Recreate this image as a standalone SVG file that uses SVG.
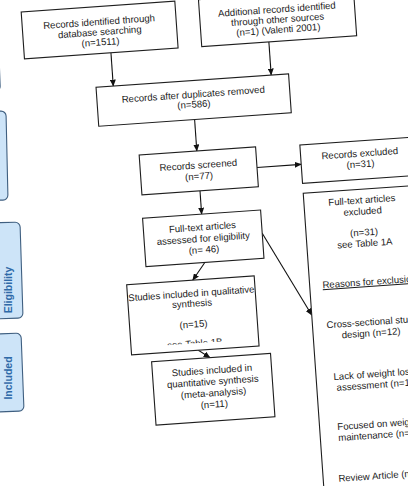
<svg xmlns="http://www.w3.org/2000/svg" width="408" height="486" viewBox="0 0 408 486">
<style>
.box{fill:#fff;stroke:#1e1e1e;stroke-width:1.1}
.t{font-family:"Liberation Sans",Arial,sans-serif;font-size:9.6px;fill:#1a1a1a;text-anchor:middle}
.lab{fill:#cde4f8;stroke:#3f5f80;stroke-width:1.1}
.lt{font-family:"Liberation Sans",Arial,sans-serif;font-size:10.5px;font-weight:bold;fill:#2f6aa8;text-anchor:middle}
.con{stroke:#111;stroke-width:1.1;fill:none}
</style>
<defs>
<marker id="ah" markerWidth="7" markerHeight="6" refX="6.5" refY="3" orient="auto" markerUnits="userSpaceOnUse">
<path d="M0,0 L7,3 L0,6 Z" fill="#111"/>
</marker>
<clipPath id="c8"><rect x="106.5" y="293" width="127.8" height="63"/></clipPath>
</defs>
<rect width="408" height="486" fill="#fff"/>
<g id="side-labels">
<g id="identification"><rect class="lab" x="-40" y="-60" width="38" height="151" rx="5" transform="rotate(-2.2,1,30)"/></g>
<g id="screening"><rect class="lab" x="-40" y="111" width="47" height="89" rx="5" transform="rotate(-1.3,7,155.5)"/></g>
<g id="eligibility"><rect class="lab" x="-30" y="222" width="51.5" height="96" rx="5" transform="rotate(-1.8,21.5,270)"/>
<text class="lt" transform="translate(11.5,290) rotate(-90)">Eligibility</text></g>
<g id="included"><rect class="lab" x="-30" y="333" width="52.5" height="78" rx="5" transform="rotate(-2.2,22.5,371.5)"/>
<text class="lt" transform="translate(12,378) rotate(-90)">Included</text></g>
</g>
<g transform="rotate(-4)">
<g id="connectors">
<line class="con" x1="107" y1="60.3" x2="107" y2="93.8" marker-end="url(#ah)"/>
<line class="con" x1="265.3" y1="60.5" x2="265.3" y2="93.8" marker-end="url(#ah)"/>
<line class="con" x1="185.8" y1="132.8" x2="185.8" y2="164.4" marker-end="url(#ah)"/>
<line class="con" x1="244.7" y1="185" x2="289" y2="185" marker-end="url(#ah)"/>
<line class="con" x1="186.2" y1="204.3" x2="186.2" y2="227.7" marker-end="url(#ah)"/>
<line class="con" x1="186" y1="276.1" x2="172.7" y2="293" marker-end="url(#ah)"/>
<line class="con" x1="245.3" y1="251" x2="289" y2="336" marker-end="url(#ah)"/>
<line class="con" x1="173.4" y1="363.2" x2="184.6" y2="371.4" marker-end="url(#ah)"/>
</g>
<g id="db-search"><rect class="box" x="20.3" y="13.4" width="154" height="47"/>
<text class="t" x="97.3" y="31.9">Records identified through</text>
<text class="t" x="97.3" y="42.1">database searching</text>
<text class="t" x="97.3" y="52.3">(n=1511)</text></g>
<g id="other-sources"><rect class="box" x="198" y="13.5" width="155.3" height="47"/>
<text class="t" x="275.6" y="31.9">Additional records identified</text>
<text class="t" x="275.6" y="42.1">through other sources</text>
<text class="t" x="275.6" y="52.3">(n=1) (Valenti 2001)</text></g>
<g id="dedup"><rect class="box" x="89.7" y="93.8" width="193" height="39"/>
<text class="t" x="186.2" y="110.9">Records after duplicates removed</text>
<text class="t" x="186.2" y="120.9">(n=586)</text></g>
<g id="screened"><rect class="box" x="128" y="164.4" width="116.7" height="39.9"/>
<text class="t" x="186.3" y="181.8">Records screened</text>
<text class="t" x="186.3" y="192.9">(n=77)</text></g>
<g id="excluded"><rect class="box" x="289" y="165.6" width="118" height="38.5"/>
<text class="t" x="348.2" y="181.4">Records excluded</text>
<text class="t" x="348.2" y="192.1">(n=31)</text></g>
<g id="fulltext"><rect class="box" x="127" y="227.7" width="118.3" height="48.4"/>
<text class="t" x="186.1" y="243.9">Full-text articles</text>
<text class="t" x="186.1" y="255.4">assessed for eligibility</text>
<text class="t" x="186.1" y="266.6">(n= 46)</text></g>
<g id="fulltext-excluded"><rect class="box" x="289" y="214" width="116" height="320"/>
<text class="t" x="347" y="228.1">Full-text articles</text>
<text class="t" x="347" y="239.3">excluded</text>
<text class="t" x="347" y="260.4">(n=31)</text>
<text class="t" x="347" y="271.4">see Table 1A</text>
<text class="t" x="349" y="310.1" text-decoration="underline">Reasons for exclusion</text>
<text class="t" x="349" y="350.3">Cross-sectional study</text>
<text class="t" x="347" y="361.4">design (n=12)</text>
<text class="t" x="347" y="402.4">Lack of weight loss</text>
<text class="t" x="347" y="413.4">assessment (n=1)</text>
<text class="t" x="347" y="452.6">Focused on weight</text>
<text class="t" x="347" y="463.6">maintenance (n=2)</text>
<text class="t" x="347" y="504.3">Review Article (n=3)</text></g>
<g id="qualitative"><rect class="box" x="106.5" y="293" width="127.8" height="70.2"/>
<g clip-path="url(#c8)">
<text class="t" x="170.4" y="309.4">Studies included in qualitative</text>
<text class="t" x="170.4" y="319.4">synthesis</text>
<text class="t" x="170.4" y="340.2">(n=15)</text>
<text class="t" x="170.4" y="359.5">see Table 1B</text></g></g>
<g id="quantitative"><rect class="box" x="126" y="371.4" width="119.2" height="63.5"/>
<text class="t" x="185.6" y="387.4">Studies included in</text>
<text class="t" x="185.6" y="398.7">quantitative synthesis</text>
<text class="t" x="185.6" y="410.1">(meta-analysis)</text>
<text class="t" x="185.6" y="421.4">(n=11)</text></g>
</g>
</svg>
